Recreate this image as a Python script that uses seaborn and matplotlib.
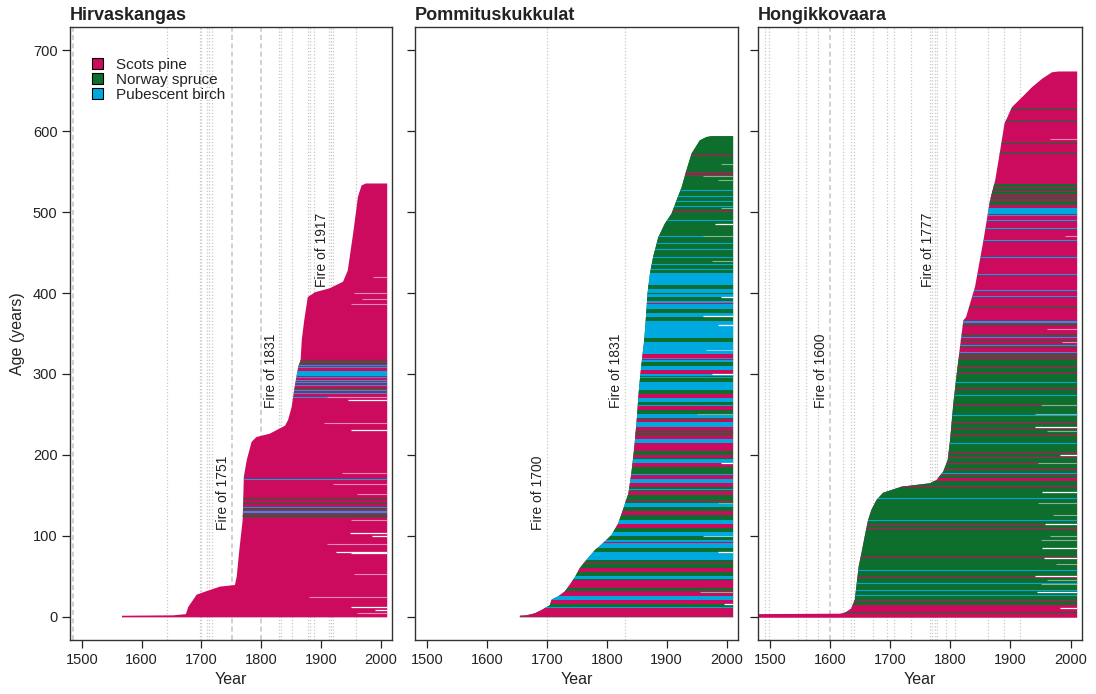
import numpy as np
import matplotlib
matplotlib.use("Agg")
import matplotlib.pyplot as plt
from matplotlib.patches import Polygon, Patch
import seaborn as sns

# ---------------- data ----------------
SITES = ["Hirvaskangas", "Pommituskukkulat", "Hongikkovaara"]
SPECIES = ["Scots pine", "Norway spruce", "Pubescent birch"]
SPECIES_CODE = ["P", "S", "B"]
SAMPLING_YEAR = 2011
X_TICKS = [1500, 1600, 1700, 1800, 1900, 2000]
Y_TICKS = [0, 100, 200, 300, 400, 500, 600, 700]

# Hirvaskangas: establishment-year outline (year, rank)
HIR_OUT_YEAR = [1567, 1567, 1653, 1674, 1678, 1692, 1703, 1731, 1756, 1759, 1764, 1769, 1771,
                1776, 1784, 1792, 1814, 1840, 1845, 1851, 1856, 1862, 1866, 1868, 1872, 1878,
                1890, 1915, 1937, 1945, 1954, 1962, 1968, 1975]
HIR_OUT_RANK = [-1, 1, 1.5, 3, 12, 27, 30, 37, 39, 49, 86, 119, 173, 194, 216, 222, 226, 236,
                243, 259, 284, 309, 317, 342, 366, 395, 401, 406, 414, 428, 474, 519, 533, 535.5]
HIR_BASE = "P"
HIR_BAND_LO = [298]
HIR_BAND_HI = [304]
HIR_BAND_SP = ["B"]
HIR_LINE_RANK = [317, 314, 311, 308, 296, 293, 290, 286, 283, 280, 276, 272,
                 170, 146, 141, 136, 134, 131, 129, 126, 124]
HIR_LINE_SP = ["S", "S", "B", "B", "B", "B", "B", "B", "S", "B", "B", "B",
               "B", "S", "S", "B", "S", "B", "B", "S", "S"]
HIR_DEAD_RANK = [267.6, 231, 103, 99, 80, 78, 12, 8]
HIR_DEAD_YEAR = [1945, 1950, 1948, 1985, 1925, 1950, 1950, 1990]
HIR_FADE_RANK = [420, 400, 393, 386, 272, 239, 177, 164, 152, 119, 90, 53, 24, 4]
HIR_FADE_YEAR = [1987, 1955, 1968, 1950, 1910, 1905, 1935, 1920, 1960, 1950, 1910, 1955, 1880, 1960]
HIR_FIRES = [1642, 1697.6, 1700, 1708.7, 1712.6, 1717, 1830, 1833, 1852, 1878.6, 1881, 1888,
             1913.6, 1917.5, 1921, 1959]
HIR_FIRES_DASHED = [1485, 1751, 1800]
HIR_LABEL_FIRE = [1751, 1831, 1917]
HIR_LABEL_BOTTOM = [107, 258, 407]

# Pommituskukkulat
POM_OUT_YEAR = [1655, 1655, 1666, 1680, 1691, 1705, 1708, 1719, 1730, 1738, 1747, 1755, 1766,
                1780, 1794, 1808, 1819, 1827, 1836, 1841, 1846, 1850, 1854, 1858, 1862.5, 1865,
                1868, 1872, 1877.5, 1886, 1897, 1908, 1916.6, 1925, 1933, 1941.6, 1955.5,
                1966.7, 1975]
POM_OUT_RANK = [-1, 1, 1.5, 4, 8, 14, 21, 25, 31, 39, 49, 60, 70, 82, 91, 101, 115, 132, 152,
                177, 210, 243, 284, 313, 342, 366, 399.5, 424, 445, 469, 486, 498, 515, 531,
                552, 572.6, 589, 593, 594]
POM_BASE = "S"
POM_BIN = 5
POM_BIN_CODES = ("PPSPBPSPPBSP" "SS" "BBSBBSB" "SPBSPSB" "SS" "PSPBPSSPBPSP" "PBPSPBPBS"
                 "PSBPSB" "BSBPB" "SBPB" "BB" "SB" "BBB" "S" "BSB" "BS" "BBSBBB"
                 "SSSSSSSSSSS" "SSSS" "SS" "SSSS" "SSSSSSSSSSSSSS")
POM_LINE_RANK = [571, 550, 546, 502, 388, 527, 520, 514, 508, 490, 470, 462, 455, 445, 436, 430,
                 410, 400, 376, 33, 47, 12, 92, 83, 118, 143, 158, 196, 228, 262, 298, 318, 24,
                 66, 176, 244]
POM_LINE_SP = ["P", "P", "P", "P", "P", "B", "B", "B", "B", "B", "B", "B", "B", "B", "B", "B",
               "S", "S", "S", "P", "S", "B", "P", "S", "B", "P", "B", "S", "P", "B", "S", "P", "B",
               "P", "B", "S"]
POM_DEAD_RANK = [485, 395, 372, 360, 300, 190, 80, 15]
POM_DEAD_YEAR = [1980, 1990, 1960, 1985, 1975, 1990, 1985, 1995]
POM_FADE_RANK = [560, 545, 540, 505, 470, 440, 330, 250, 140, 100, 30]
POM_FADE_YEAR = [1990, 1960, 1985, 1990, 1960, 1975, 1965, 1950, 1985, 1960, 1955]
POM_FIRES = [1700, 1831]
POM_FIRES_DASHED = []
POM_LABEL_FIRE = [1700, 1831]
POM_LABEL_BOTTOM = [107, 258]

# Hongikkovaara
HON_OUT_YEAR = [1470, 1470, 1616, 1625, 1635, 1641, 1643.6, 1647.5, 1652, 1657.5, 1663, 1668.7,
                1677, 1688, 1702, 1719, 1766, 1777, 1788, 1795.6, 1799.5, 1805, 1810.7, 1816,
                1821.7, 1826, 1841, 1855, 1866, 1874.6, 1883, 1890, 1902.5, 1919, 1936, 1952.6,
                1969, 1980]
HON_OUT_RANK = [-1.5, 3, 3.5, 5, 10, 20.6, 37, 62, 78, 99, 119, 132, 144, 153, 156.5, 160.6,
                164.8, 169, 179, 193.6, 218, 263.6, 300.7, 333.5, 366.5, 370, 407.7, 465, 514.7,
                539.5, 577, 609.5, 630, 642, 654.7, 665, 673, 674]
HON_BASE = "P"
HON_BAND_LO = [14, 171, 498, 509, 516]
HON_BAND_HI = [167, 318, 505, 514, 535]
HON_BAND_SP = ["S", "S", "B", "S", "S"]
HON_LINE_RANK = [14.5, 20.6, 49, 74, 109, 115, 119, 162, 27, 33, 41, 57.7, 146, 6,
                 175, 183, 189.5, 197.6, 204, 224.5, 232.7, 241, 261.5, 282, 300.7, 309,
                 177, 214, 249, 274, 290,
                 360, 350, 342, 333.5, 325, 321, 383, 613, 628, 585, 573,
                 364, 346, 335.6, 327, 365, 396, 404, 424, 445, 465, 480, 490, 496,
                 520, 523, 526, 531]
HON_LINE_SP = ["P", "P", "P", "P", "P", "P", "B", "P", "B", "B", "B", "B", "B", "S",
               "P", "P", "P", "P", "P", "P", "P", "P", "P", "P", "P", "P",
               "B", "B", "B", "B", "B",
               "S", "S", "S", "S", "S", "S", "S", "S", "S", "S", "S",
               "B", "B", "B", "B", "B", "B", "B", "B", "B", "B", "B", "B", "B",
               "P", "P", "P", "P"]
HON_DEAD_RANK = [234.7, 200, 154, 115, 84.7, 72.5, 50, 30, 10]
HON_DEAD_YEAR = [1941.5, 1983, 1952.6, 1958, 1952, 1955, 1941, 1944, 1983]
HON_FADE_RANK = [262, 250, 230, 190, 140, 125, 100, 95, 65, 45, 40, 356, 340, 470, 590]
HON_FADE_YEAR = [1950, 1940, 1960, 1945, 1945, 1970, 1965, 1950, 1975, 1960, 1950, 1960, 1985, 1990, 1965]
HON_FIRES = [1491, 1499, 1546, 1560, 1580, 1621, 1634, 1639, 1671, 1695, 1706, 1734, 1766,
             1770, 1774, 1777, 1793, 1807, 1863, 1889, 1916]
HON_FIRES_DASHED = [1600]
HON_LABEL_FIRE = [1600, 1777]
HON_LABEL_BOTTOM = [258, 408]

# ---------------- style ----------------
COL = {"P": "#CC0A5E", "S": "#0E6E2E", "B": "#00A8E0"}
FADE = {"P": "#E78AB4", "S": "#86B48F", "B": "#86D2EE"}

sns.set_theme(style="ticks")
plt.rcParams["font.family"] = ["Liberation Sans", "DejaVu Sans"]
plt.rcParams["text.color"] = "#222222"
plt.rcParams["axes.labelcolor"] = "#222222"
plt.rcParams["xtick.color"] = "#222222"
plt.rcParams["ytick.color"] = "#222222"

fig = plt.figure(figsize=(10.96, 6.94), dpi=100)
W, H = 1096, 694
boxes = [(70, 392), (415, 738), (758, 1082)]
top_px, bot_px = 27, 640
axes = [fig.add_axes([l / W, 1 - bot_px / H, (r - l) / W, (bot_px - top_px) / H]) for l, r in boxes]

X_LO = 1460


def draw_panel(ax, out_year, out_rank, base, bands, lines, dead, fade,
               fires, fires_dashed, lab_fire, lab_bottom):
    for f in fires:
        ax.axvline(f, color="#C8C8C8", lw=0.9, ls=(0, (1, 1.6)), zorder=0)
    for f in fires_dashed:
        ax.axvline(f, color="#C8C8C8", lw=1.2, ls=(0, (3, 2)), zorder=0)

    verts = list(zip(out_year, out_rank)) + [(SAMPLING_YEAR, out_rank[-1]),
                                             (SAMPLING_YEAR, out_rank[0])]
    poly = Polygon(verts, closed=True, fc=COL[base], ec="none", zorder=2)
    ax.add_patch(poly)

    lo, hi, sp = bands
    if len(lo):
        lo = np.asarray(lo, float)
        hi = np.asarray(hi, float)
        bars = ax.barh((lo + hi) / 2, SAMPLING_YEAR - X_LO, left=X_LO, height=hi - lo,
                       color=[COL[s] for s in sp], linewidth=0, zorder=3)
        for r in bars:
            r.set_clip_path(poly)

    lr, ls_ = lines
    if len(lr):
        hl = ax.hlines(lr, X_LO, SAMPLING_YEAR, colors=[COL[s] for s in ls_], lw=0.8, zorder=4)
        hl.set_clip_path(poly)

    fr, fy, fsp = fade
    if len(fr):
        fl = ax.hlines(fr, fy, SAMPLING_YEAR, colors=[FADE[s] for s in fsp], lw=0.8, zorder=5)
        fl.set_clip_path(poly)

    dr, dy = dead
    if len(dr):
        dl = ax.hlines(dr, dy, SAMPLING_YEAR, colors="white", lw=0.9, zorder=6)
        dl.set_clip_path(poly)

    for fy_, fb in zip(lab_fire, lab_bottom):
        ax.text(fy_ - 15, fb, f"Fire of {fy_}", rotation=90, ha="center", va="bottom",
                fontsize=10, color="#222222", zorder=7)


pom_lo = [POM_BIN * k for k in range(len(POM_BIN_CODES))]
pom_hi = [POM_BIN * (k + 1) for k in range(len(POM_BIN_CODES))]
pom_sp = list(POM_BIN_CODES)


def fade_species(ranks, panel):
    out = []
    for r in ranks:
        if panel == "HIR":
            out.append("P")
        elif panel == "POM":
            k = int(r // POM_BIN)
            out.append(POM_BIN_CODES[min(k, len(POM_BIN_CODES) - 1)])
        else:
            s = HON_BASE
            for a, b, c in zip(HON_BAND_LO, HON_BAND_HI, HON_BAND_SP):
                if a <= r < b:
                    s = c
            out.append(s)
    return out


draw_panel(axes[0], HIR_OUT_YEAR, HIR_OUT_RANK, HIR_BASE,
           (HIR_BAND_LO, HIR_BAND_HI, HIR_BAND_SP), (HIR_LINE_RANK, HIR_LINE_SP),
           (HIR_DEAD_RANK, HIR_DEAD_YEAR),
           (HIR_FADE_RANK, HIR_FADE_YEAR, fade_species(HIR_FADE_RANK, "HIR")),
           HIR_FIRES, HIR_FIRES_DASHED, HIR_LABEL_FIRE, HIR_LABEL_BOTTOM)
draw_panel(axes[1], POM_OUT_YEAR, POM_OUT_RANK, POM_BASE,
           (pom_lo, pom_hi, pom_sp), (POM_LINE_RANK, POM_LINE_SP),
           (POM_DEAD_RANK, POM_DEAD_YEAR),
           (POM_FADE_RANK, POM_FADE_YEAR, fade_species(POM_FADE_RANK, "POM")),
           POM_FIRES, POM_FIRES_DASHED, POM_LABEL_FIRE, POM_LABEL_BOTTOM)
draw_panel(axes[2], HON_OUT_YEAR, HON_OUT_RANK, HON_BASE,
           (HON_BAND_LO, HON_BAND_HI, HON_BAND_SP), (HON_LINE_RANK, HON_LINE_SP),
           (HON_DEAD_RANK, HON_DEAD_YEAR),
           (HON_FADE_RANK, HON_FADE_YEAR, fade_species(HON_FADE_RANK, "HON")),
           HON_FIRES, HON_FIRES_DASHED, HON_LABEL_FIRE, HON_LABEL_BOTTOM)

for i, ax in enumerate(axes):
    ax.set_xlim(1480, 2019)
    ax.set_ylim(-29, 729)
    ax.set_xticks(X_TICKS)
    ax.set_yticks(Y_TICKS)
    ax.tick_params(direction="out", length=6, width=0.9, labelsize=10.5, pad=3)
    for s in ax.spines.values():
        s.set_visible(True)
        s.set_linewidth(1.0)
        s.set_color("#333333")
    ax.set_xlabel("Year", fontsize=11.5, labelpad=4)
    ax.set_title(SITES[i], loc="left", fontsize=13, fontweight="bold", pad=5)
    ax.set_facecolor("white")
    if i == 0:
        ax.set_ylabel("Age (years)", fontsize=11.5, labelpad=6)
    else:
        ax.set_yticklabels([])
        ax.set_ylabel("")

handles = [Patch(facecolor=COL[c], edgecolor="black", linewidth=0.8, label=n)
           for c, n in zip(SPECIES_CODE, SPECIES)]
axes[0].legend(handles=handles, loc="upper left", bbox_to_anchor=(0.068, 0.95),
               frameon=False, fontsize=11, handlelength=0.7, handleheight=0.7,
               handletextpad=0.9, labelspacing=0.08, borderaxespad=0, borderpad=0)

fig.savefig("out.png", dpi=100)
